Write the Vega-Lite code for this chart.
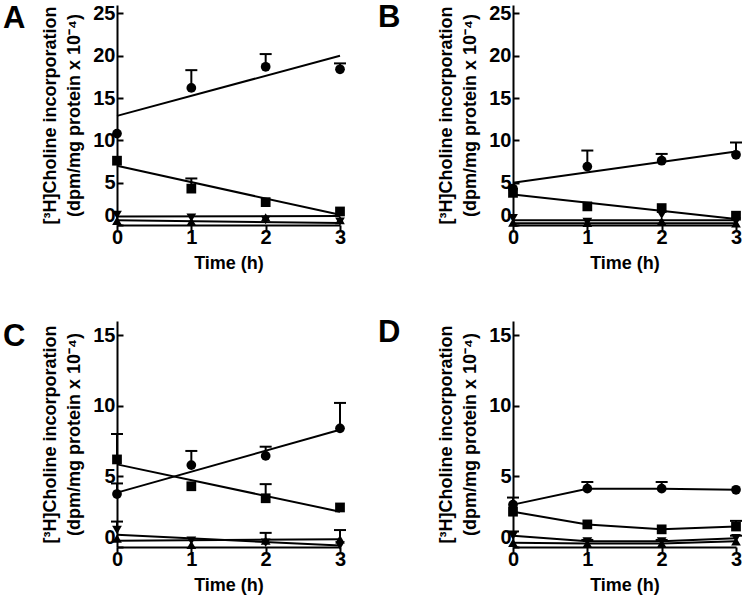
{
  "$schema": "https://vega.github.io/schema/vega-lite/v6.json",
  "padding": {"left": 3, "top": 2, "right": 5, "bottom": 2},
  "background": "white",
  "columns": 2,
  "bounds": "flush",
  "align": "each",
  "spacing": {"row": 96, "column": 173},
  "config": {
    "view": {"stroke": null},
    "font": "Liberation Sans",
    "axis": {
      "grid": false,
      "labelFlush": false,
      "domainColor": "black",
      "domainWidth": 2,
      "tickColor": "black",
      "tickWidth": 2,
      "labelColor": "black",
      "labelFont": "Liberation Sans",
      "labelFontWeight": "bold",
      "labelFontSize": 20,
      "titleColor": "black",
      "titleFont": "Liberation Sans",
      "titleFontWeight": "bold",
      "titleFontSize": 18,
      "titleLineHeight": 24
    },
    "axisX": {"tickSize": 5, "labelPadding": -3, "titlePadding": 7, "labelAngle": 0, "format": "d"},
    "axisY": {"tickSize": -6, "labelPadding": 8, "titlePadding": 9, "format": "d"},
    "title": {"font": "Liberation Sans", "fontWeight": "bold", "fontSize": 31, "color": "black", "anchor": "start", "frame": "group", "baseline": "top", "offset": 0}
  },
  "datasets": {
    "pts": [
      {"p": "A", "s": "circle", "t": 0, "v": 10.8, "hi": null},
      {"p": "A", "s": "circle", "t": 1, "v": 16.2, "hi": 18.3},
      {"p": "A", "s": "circle", "t": 2, "v": 18.7, "hi": 20.2},
      {"p": "A", "s": "circle", "t": 3, "v": 18.4, "hi": 19.1},
      {"p": "A", "s": "square", "t": 0, "v": 7.6, "hi": null},
      {"p": "A", "s": "square", "t": 1, "v": 4.3, "hi": 5.5},
      {"p": "A", "s": "square", "t": 2, "v": 2.7, "hi": null},
      {"p": "A", "s": "square", "t": 3, "v": 1.6, "hi": null},
      {"p": "A", "s": "down", "t": 0, "v": 1.2, "hi": null},
      {"p": "A", "s": "down", "t": 1, "v": 0.85, "hi": null},
      {"p": "A", "s": "down", "t": 2, "v": 0.6, "hi": null},
      {"p": "A", "s": "down", "t": 3, "v": 0.4, "hi": null},
      {"p": "A", "s": "up", "t": 0, "v": 0.5, "hi": null},
      {"p": "A", "s": "up", "t": 1, "v": 0.4, "hi": null},
      {"p": "A", "s": "up", "t": 2, "v": 0.9, "hi": null},
      {"p": "A", "s": "up", "t": 3, "v": 0.6, "hi": null},

      {"p": "B", "s": "circle", "t": 0, "v": 4.3, "hi": null},
      {"p": "B", "s": "circle", "t": 1, "v": 6.9, "hi": 8.8},
      {"p": "B", "s": "circle", "t": 2, "v": 7.6, "hi": 8.4},
      {"p": "B", "s": "circle", "t": 3, "v": 8.3, "hi": 9.75},
      {"p": "B", "s": "square", "t": 0, "v": 3.8, "hi": null},
      {"p": "B", "s": "square", "t": 1, "v": 2.2, "hi": null},
      {"p": "B", "s": "square", "t": 2, "v": 2.0, "hi": null},
      {"p": "B", "s": "square", "t": 3, "v": 1.1, "hi": null},
      {"p": "B", "s": "down", "t": 0, "v": 0.8, "hi": null},
      {"p": "B", "s": "down", "t": 1, "v": 0.35, "hi": null},
      {"p": "B", "s": "down", "t": 2, "v": 1.2, "hi": null},
      {"p": "B", "s": "down", "t": 3, "v": 0.4, "hi": null},
      {"p": "B", "s": "up", "t": 0, "v": 0.3, "hi": null},
      {"p": "B", "s": "up", "t": 1, "v": 0.25, "hi": null},
      {"p": "B", "s": "up", "t": 2, "v": 0.45, "hi": null},
      {"p": "B", "s": "up", "t": 3, "v": 0.2, "hi": null},

      {"p": "C", "s": "circle", "t": 0, "v": 3.75, "hi": 4.5},
      {"p": "C", "s": "circle", "t": 1, "v": 5.8, "hi": 6.8},
      {"p": "C", "s": "circle", "t": 2, "v": 6.45, "hi": 7.1},
      {"p": "C", "s": "circle", "t": 3, "v": 8.4, "hi": 10.2},
      {"p": "C", "s": "square", "t": 0, "v": 6.2, "hi": 8.0},
      {"p": "C", "s": "square", "t": 1, "v": 4.3, "hi": null},
      {"p": "C", "s": "square", "t": 2, "v": 3.45, "hi": 4.45},
      {"p": "C", "s": "square", "t": 3, "v": 2.8, "hi": null},
      {"p": "C", "s": "down", "t": 0, "v": 1.2, "hi": 1.8},
      {"p": "C", "s": "down", "t": 1, "v": 0.45, "hi": null},
      {"p": "C", "s": "down", "t": 2, "v": 0.3, "hi": null},
      {"p": "C", "s": "down", "t": 3, "v": 0.1, "hi": null},
      {"p": "C", "s": "up", "t": 0, "v": 0.6, "hi": null},
      {"p": "C", "s": "up", "t": 1, "v": 0.15, "hi": null},
      {"p": "C", "s": "up", "t": 2, "v": 0.45, "hi": 1.0},
      {"p": "C", "s": "up", "t": 3, "v": 0.55, "hi": 1.2},

      {"p": "D", "s": "circle", "t": 0, "v": 3.0, "hi": 3.5},
      {"p": "D", "s": "circle", "t": 1, "v": 4.13, "hi": 4.6},
      {"p": "D", "s": "circle", "t": 2, "v": 4.13, "hi": 4.6},
      {"p": "D", "s": "circle", "t": 3, "v": 4.05, "hi": null},
      {"p": "D", "s": "square", "t": 0, "v": 2.5, "hi": null},
      {"p": "D", "s": "square", "t": 1, "v": 1.6, "hi": null},
      {"p": "D", "s": "square", "t": 2, "v": 1.25, "hi": null},
      {"p": "D", "s": "square", "t": 3, "v": 1.45, "hi": 1.85},
      {"p": "D", "s": "down", "t": 0, "v": 0.8, "hi": 1.1},
      {"p": "D", "s": "down", "t": 1, "v": 0.4, "hi": 0.5},
      {"p": "D", "s": "down", "t": 2, "v": 0.4, "hi": 0.5},
      {"p": "D", "s": "down", "t": 3, "v": 0.62, "hi": 0.8},
      {"p": "D", "s": "up", "t": 0, "v": 0.3, "hi": null},
      {"p": "D", "s": "up", "t": 1, "v": 0.25, "hi": null},
      {"p": "D", "s": "up", "t": 2, "v": 0.25, "hi": null},
      {"p": "D", "s": "up", "t": 3, "v": 0.4, "hi": null}
    ],
    "fits": [
      {"p": "A", "s": "circle", "t": 0, "v": 12.9},
      {"p": "A", "s": "circle", "t": 3, "v": 20.0},
      {"p": "A", "s": "square", "t": 0, "v": 7.0},
      {"p": "A", "s": "square", "t": 3, "v": 1.2},
      {"p": "A", "s": "down", "t": 0, "v": 1.0},
      {"p": "A", "s": "down", "t": 3, "v": 1.05},
      {"p": "A", "s": "up", "t": 0, "v": 0.55},
      {"p": "A", "s": "up", "t": 3, "v": 0.25},
      {"p": "B", "s": "circle", "t": 0, "v": 5.0},
      {"p": "B", "s": "circle", "t": 3, "v": 8.7},
      {"p": "B", "s": "square", "t": 0, "v": 3.6},
      {"p": "B", "s": "square", "t": 3, "v": 0.7},
      {"p": "B", "s": "down", "t": 0, "v": 0.55},
      {"p": "B", "s": "down", "t": 3, "v": 0.55},
      {"p": "B", "s": "up", "t": 0, "v": 0.2},
      {"p": "B", "s": "up", "t": 3, "v": 0.2},
      {"p": "C", "s": "circle", "t": 0, "v": 3.85},
      {"p": "C", "s": "circle", "t": 3, "v": 8.3},
      {"p": "C", "s": "square", "t": 0, "v": 5.85},
      {"p": "C", "s": "square", "t": 3, "v": 2.5},
      {"p": "C", "s": "down", "t": 0, "v": 0.87},
      {"p": "C", "s": "down", "t": 3, "v": 0.1},
      {"p": "C", "s": "up", "t": 0, "v": 0.45},
      {"p": "C", "s": "up", "t": 3, "v": 0.55}
    ]
  },
  "concat": [
    {
      "width": 223, "height": 220,
      "title": {"text": "A", "dx": -114, "dy": 36},
      "layer": [
        {"data": {"name": "fits"}, "transform": [{"filter": "datum.p === 'A'"}],
         "mark": {"type": "line", "color": "black", "strokeWidth": 2},
         "encoding": {
           "x": {"field": "t", "type": "quantitative", "scale": {"domain": [0, 3]}, "axis": {"values": [0, 1, 2, 3], "title": "Time (h)"}},
           "y": {"field": "v", "type": "quantitative", "scale": {"domain": [0, 25]}, "axis": {"values": [0, 5, 10, 15, 20, 25], "labelBaseline": {"condition": {"test": "datum.value === 0", "value": "bottom"}, "value": "middle"}, "title": ["[³H]Choline incorporation", "(dpm/mg protein x 10⁻⁴)"]}},
           "detail": {"field": "s"}}},
        {"data": {"name": "pts"}, "transform": [{"filter": "datum.p === 'A' && datum.hi != null"}],
         "mark": {"type": "rule", "color": "black", "strokeWidth": 2},
         "encoding": {"x": {"field": "t", "type": "quantitative"}, "y": {"field": "v", "type": "quantitative"}, "y2": {"field": "hi"}}},
        {"data": {"name": "pts"}, "transform": [{"filter": "datum.p === 'A' && datum.hi != null"}],
         "mark": {"type": "tick", "color": "black", "orient": "horizontal", "size": 12, "thickness": 2, "opacity": 1},
         "encoding": {"x": {"field": "t", "type": "quantitative"}, "y": {"field": "hi", "type": "quantitative"}}},
        {"data": {"name": "pts"}, "transform": [{"filter": "datum.p === 'A'"}],
         "mark": {"type": "point", "filled": true, "color": "black", "opacity": 1, "size": 95},
         "encoding": {"x": {"field": "t", "type": "quantitative"}, "y": {"field": "v", "type": "quantitative"},
           "shape": {"field": "s", "type": "nominal", "scale": {"domain": ["circle", "square", "down", "up"], "range": ["circle", "square", "triangle-down", "triangle-up"]}, "legend": null}}}
      ]
    },
    {
      "width": 223, "height": 220,
      "title": {"text": "B", "dx": -135, "dy": 35},
      "layer": [
        {"data": {"name": "fits"}, "transform": [{"filter": "datum.p === 'B'"}],
         "mark": {"type": "line", "color": "black", "strokeWidth": 2},
         "encoding": {
           "x": {"field": "t", "type": "quantitative", "scale": {"domain": [0, 3]}, "axis": {"values": [0, 1, 2, 3], "title": "Time (h)"}},
           "y": {"field": "v", "type": "quantitative", "scale": {"domain": [0, 25]}, "axis": {"values": [0, 5, 10, 15, 20, 25], "labelBaseline": {"condition": {"test": "datum.value === 0", "value": "bottom"}, "value": "middle"}, "title": ["[³H]Choline incorporation", "(dpm/mg protein x 10⁻⁴)"]}},
           "detail": {"field": "s"}}},
        {"data": {"name": "pts"}, "transform": [{"filter": "datum.p === 'B' && datum.hi != null"}],
         "mark": {"type": "rule", "color": "black", "strokeWidth": 2},
         "encoding": {"x": {"field": "t", "type": "quantitative"}, "y": {"field": "v", "type": "quantitative"}, "y2": {"field": "hi"}}},
        {"data": {"name": "pts"}, "transform": [{"filter": "datum.p === 'B' && datum.hi != null"}],
         "mark": {"type": "tick", "color": "black", "orient": "horizontal", "size": 12, "thickness": 2, "opacity": 1},
         "encoding": {"x": {"field": "t", "type": "quantitative"}, "y": {"field": "hi", "type": "quantitative"}}},
        {"data": {"name": "pts"}, "transform": [{"filter": "datum.p === 'B'"}],
         "mark": {"type": "point", "filled": true, "color": "black", "opacity": 1, "size": 95},
         "encoding": {"x": {"field": "t", "type": "quantitative"}, "y": {"field": "v", "type": "quantitative"},
           "shape": {"field": "s", "type": "nominal", "scale": {"domain": ["circle", "square", "down", "up"], "range": ["circle", "square", "triangle-down", "triangle-up"]}, "legend": null}}}
      ]
    },
    {
      "width": 223, "height": 226,
      "title": {"text": "C", "dx": -114, "dy": 36},
      "layer": [
        {"data": {"name": "fits"}, "transform": [{"filter": "datum.p === 'C'"}],
         "mark": {"type": "line", "color": "black", "strokeWidth": 2},
         "encoding": {
           "x": {"field": "t", "type": "quantitative", "scale": {"domain": [0, 3]}, "axis": {"values": [0, 1, 2, 3], "title": "Time (h)"}},
           "y": {"field": "v", "type": "quantitative", "scale": {"domain": [0, 15]}, "axis": {"values": [0, 5, 10, 15], "labelBaseline": {"condition": {"test": "datum.value === 0", "value": "bottom"}, "value": "middle"}, "title": ["[³H]Choline incorporation", "(dpm/mg protein x 10⁻⁴)"]}},
           "detail": {"field": "s"}}},
        {"data": {"name": "pts"}, "transform": [{"filter": "datum.p === 'C' && datum.hi != null"}],
         "mark": {"type": "rule", "color": "black", "strokeWidth": 2},
         "encoding": {"x": {"field": "t", "type": "quantitative"}, "y": {"field": "v", "type": "quantitative"}, "y2": {"field": "hi"}}},
        {"data": {"name": "pts"}, "transform": [{"filter": "datum.p === 'C' && datum.hi != null"}],
         "mark": {"type": "tick", "color": "black", "orient": "horizontal", "size": 12, "thickness": 2, "opacity": 1},
         "encoding": {"x": {"field": "t", "type": "quantitative"}, "y": {"field": "hi", "type": "quantitative"}}},
        {"data": {"name": "pts"}, "transform": [{"filter": "datum.p === 'C'"}],
         "mark": {"type": "point", "filled": true, "color": "black", "opacity": 1, "size": 95},
         "encoding": {"x": {"field": "t", "type": "quantitative"}, "y": {"field": "v", "type": "quantitative"},
           "shape": {"field": "s", "type": "nominal", "scale": {"domain": ["circle", "square", "down", "up"], "range": ["circle", "square", "triangle-down", "triangle-up"]}, "legend": null}}}
      ]
    },
    {
      "width": 223, "height": 226,
      "title": {"text": "D", "dx": -135, "dy": 32},
      "layer": [
        {"data": {"name": "pts"}, "transform": [{"filter": "datum.p === 'D'"}],
         "mark": {"type": "line", "color": "black", "strokeWidth": 2},
         "encoding": {
           "x": {"field": "t", "type": "quantitative", "scale": {"domain": [0, 3]}, "axis": {"values": [0, 1, 2, 3], "title": "Time (h)"}},
           "y": {"field": "v", "type": "quantitative", "scale": {"domain": [0, 15]}, "axis": {"values": [0, 5, 10, 15], "labelBaseline": {"condition": {"test": "datum.value === 0", "value": "bottom"}, "value": "middle"}, "title": ["[³H]Choline incorporation", "(dpm/mg protein x 10⁻⁴)"]}},
           "detail": {"field": "s"}}},
        {"data": {"name": "pts"}, "transform": [{"filter": "datum.p === 'D' && datum.hi != null"}],
         "mark": {"type": "rule", "color": "black", "strokeWidth": 2},
         "encoding": {"x": {"field": "t", "type": "quantitative"}, "y": {"field": "v", "type": "quantitative"}, "y2": {"field": "hi"}}},
        {"data": {"name": "pts"}, "transform": [{"filter": "datum.p === 'D' && datum.hi != null"}],
         "mark": {"type": "tick", "color": "black", "orient": "horizontal", "size": 12, "thickness": 2, "opacity": 1},
         "encoding": {"x": {"field": "t", "type": "quantitative"}, "y": {"field": "hi", "type": "quantitative"}}},
        {"data": {"name": "pts"}, "transform": [{"filter": "datum.p === 'D'"}],
         "mark": {"type": "point", "filled": true, "color": "black", "opacity": 1, "size": 95},
         "encoding": {"x": {"field": "t", "type": "quantitative"}, "y": {"field": "v", "type": "quantitative"},
           "shape": {"field": "s", "type": "nominal", "scale": {"domain": ["circle", "square", "down", "up"], "range": ["circle", "square", "triangle-down", "triangle-up"]}, "legend": null}}}
      ]
    }
  ]
}
